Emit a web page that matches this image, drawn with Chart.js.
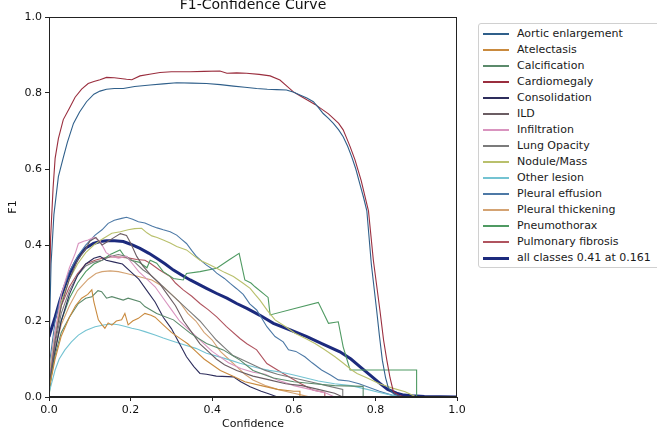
<!DOCTYPE html>
<html>
<head>
<meta charset="utf-8">
<script src="https://cdn.jsdelivr.net/npm/chart.js@4.4.1/dist/chart.umd.min.js"></script>
<style>
  html, body { margin:0; padding:0; background:#fff; overflow:hidden; }
  #wrap { position:relative; width:657px; height:434px; overflow:hidden; }
  #legend { position:absolute; left:478px; top:23px; width:190px; height:245px;
    border:1px solid #d0d0d0; border-radius:3px; background:#fff; box-sizing:border-box;
    font-family:"DejaVu Sans", sans-serif; font-size:11px; color:#1a1a1a; }
  .row { position:absolute; left:0; height:16px; line-height:16px; white-space:nowrap; }
  .sw { position:absolute; left:4px; width:26px; top:7px; }
  .lbl { position:absolute; left:38px; top:0; }
</style>
</head>
<body>
<div id="wrap">
  <canvas id="c" width="657" height="434"></canvas>
  <div id="legend"></div>
</div>
<script>
// ---- Data (confidence, F1) ----
const classNames = ["Aortic enlargement","Atelectasis","Calcification","Cardiomegaly","Consolidation","ILD","Infiltration","Lung Opacity","Nodule/Mass","Other lesion","Pleural effusion","Pleural thickening","Pneumothorax","Pulmonary fibrosis"];
const allClassesLabel = "all classes 0.41 at 0.161";
const xTicks = [0, 0.2, 0.4, 0.6, 0.8, 1.0];
const yTicks = [0, 0.2, 0.4, 0.6, 0.8, 1.0];

const aortic = [[0,0.12],[0.005,0.35],[0.012,0.48],[0.023,0.58],[0.035,0.63],[0.045,0.67],[0.06,0.72],[0.075,0.75],[0.092,0.777],[0.11,0.797],[0.125,0.805],[0.141,0.81],[0.16,0.812],[0.182,0.812],[0.21,0.817],[0.248,0.821],[0.28,0.824],[0.313,0.827],[0.35,0.826],[0.386,0.825],[0.42,0.822],[0.452,0.818],[0.48,0.815],[0.509,0.812],[0.535,0.81],[0.558,0.809],[0.582,0.808],[0.6,0.802],[0.615,0.795],[0.632,0.787],[0.648,0.777],[0.66,0.762],[0.672,0.746],[0.685,0.733],[0.697,0.72],[0.71,0.703],[0.721,0.685],[0.732,0.66],[0.742,0.632],[0.752,0.6],[0.762,0.56],[0.771,0.525],[0.779,0.49],[0.79,0.35],[0.803,0.229],[0.81,0.16],[0.817,0.097],[0.825,0.05],[0.832,0.023],[0.845,0.008],[0.86,0.002],[0.87,0],[1,0]];
const atelectasis = [[0,0.02],[0.015,0.1],[0.03,0.16],[0.05,0.21],[0.065,0.24],[0.08,0.26],[0.095,0.27],[0.105,0.282],[0.11,0.25],[0.117,0.22],[0.121,0.203],[0.13,0.19],[0.137,0.181],[0.145,0.195],[0.154,0.189],[0.165,0.2],[0.178,0.203],[0.186,0.22],[0.194,0.19],[0.205,0.2],[0.219,0.207],[0.235,0.22],[0.25,0.215],[0.26,0.21],[0.28,0.19],[0.3,0.17],[0.32,0.155],[0.34,0.14],[0.36,0.12],[0.38,0.1],[0.4,0.085],[0.42,0.07],[0.45,0.055],[0.48,0.04],[0.52,0.03],[0.56,0.02],[0.6,0.015],[0.615,0.015],[0.615,0],[1,0]];
const calcification = [[0,0.02],[0.015,0.11],[0.03,0.17],[0.05,0.21],[0.072,0.246],[0.09,0.26],[0.105,0.264],[0.12,0.28],[0.129,0.277],[0.141,0.26],[0.154,0.264],[0.182,0.255],[0.194,0.26],[0.223,0.251],[0.235,0.238],[0.264,0.22],[0.305,0.203],[0.346,0.168],[0.386,0.141],[0.427,0.124],[0.468,0.097],[0.5,0.07],[0.55,0.05],[0.6,0.04],[0.65,0.035],[0.7,0.03],[0.77,0.028],[0.77,0],[1,0]];
const cardiomegaly = [[0,0.2],[0.004,0.42],[0.01,0.55],[0.015,0.628],[0.023,0.68],[0.035,0.73],[0.05,0.76],[0.064,0.789],[0.08,0.81],[0.096,0.825],[0.11,0.83],[0.125,0.835],[0.141,0.841],[0.16,0.84],[0.19,0.836],[0.203,0.835],[0.223,0.845],[0.25,0.85],[0.272,0.854],[0.3,0.856],[0.346,0.856],[0.38,0.857],[0.419,0.858],[0.436,0.852],[0.46,0.853],[0.484,0.852],[0.515,0.849],[0.542,0.845],[0.566,0.834],[0.583,0.818],[0.599,0.803],[0.615,0.793],[0.632,0.782],[0.652,0.77],[0.672,0.755],[0.685,0.745],[0.697,0.733],[0.71,0.72],[0.721,0.703],[0.73,0.68],[0.738,0.659],[0.75,0.624],[0.765,0.57],[0.783,0.49],[0.795,0.36],[0.811,0.229],[0.82,0.15],[0.828,0.097],[0.836,0.05],[0.844,0.014],[0.86,0.003],[0.875,0],[1,0]];
const consolidation = [[0,0.02],[0.015,0.12],[0.03,0.2],[0.05,0.27],[0.07,0.32],[0.09,0.35],[0.11,0.365],[0.125,0.37],[0.14,0.36],[0.16,0.355],[0.18,0.35],[0.2,0.33],[0.22,0.31],[0.24,0.28],[0.26,0.25],[0.28,0.21],[0.3,0.18],[0.32,0.14],[0.337,0.106],[0.355,0.08],[0.37,0.062],[0.386,0.06],[0.41,0.055],[0.452,0.053],[0.47,0.04],[0.493,0.027],[0.52,0.015],[0.54,0.008],[0.56,0],[1,0]];
const ild = [[0,0.03],[0.015,0.15],[0.03,0.24],[0.05,0.31],[0.07,0.36],[0.09,0.39],[0.1,0.41],[0.115,0.42],[0.13,0.4],[0.145,0.41],[0.16,0.42],[0.175,0.43],[0.19,0.425],[0.2,0.405],[0.215,0.37],[0.23,0.345],[0.25,0.32],[0.27,0.3],[0.29,0.27],[0.31,0.24],[0.33,0.2],[0.35,0.17],[0.37,0.14],[0.39,0.12],[0.41,0.1],[0.43,0.085],[0.46,0.07],[0.5,0.055],[0.54,0.045],[0.58,0.035],[0.62,0.03],[0.66,0.02],[0.7,0.01],[0.72,0],[1,0]];
const infiltration = [[0,0.03],[0.015,0.17],[0.03,0.27],[0.05,0.34],[0.065,0.38],[0.072,0.404],[0.085,0.41],[0.096,0.413],[0.11,0.42],[0.125,0.41],[0.14,0.38],[0.155,0.37],[0.17,0.365],[0.19,0.37],[0.205,0.35],[0.22,0.33],[0.24,0.31],[0.26,0.29],[0.28,0.26],[0.3,0.23],[0.32,0.2],[0.34,0.18],[0.36,0.16],[0.38,0.14],[0.4,0.12],[0.42,0.105],[0.44,0.09],[0.47,0.075],[0.5,0.065],[0.53,0.06],[0.56,0.045],[0.6,0.03],[0.64,0.02],[0.68,0.01],[0.7,0],[1,0]];
const lungOpacity = [[0,0.03],[0.015,0.14],[0.03,0.22],[0.05,0.28],[0.07,0.32],[0.09,0.345],[0.11,0.355],[0.13,0.36],[0.15,0.37],[0.17,0.375],[0.19,0.37],[0.21,0.355],[0.23,0.335],[0.25,0.32],[0.27,0.3],[0.29,0.28],[0.31,0.26],[0.33,0.24],[0.35,0.22],[0.37,0.2],[0.39,0.175],[0.41,0.15],[0.43,0.13],[0.45,0.11],[0.47,0.1],[0.5,0.085],[0.53,0.07],[0.56,0.06],[0.6,0.05],[0.64,0.04],[0.68,0.03],[0.72,0.02],[0.72,0],[1,0]];
const noduleMass = [[0,0.05],[0.015,0.17],[0.03,0.25],[0.05,0.31],[0.07,0.35],[0.09,0.38],[0.11,0.4],[0.13,0.415],[0.154,0.431],[0.175,0.435],[0.194,0.44],[0.21,0.443],[0.227,0.444],[0.24,0.432],[0.252,0.424],[0.265,0.42],[0.28,0.413],[0.297,0.405],[0.313,0.396],[0.337,0.387],[0.355,0.372],[0.37,0.36],[0.39,0.35],[0.411,0.339],[0.43,0.328],[0.452,0.317],[0.475,0.3],[0.493,0.286],[0.505,0.27],[0.517,0.255],[0.535,0.228],[0.554,0.203],[0.58,0.185],[0.603,0.168],[0.63,0.153],[0.652,0.141],[0.675,0.125],[0.701,0.106],[0.72,0.09],[0.742,0.071],[0.755,0.062],[0.78,0.05],[0.81,0.035],[0.84,0.024],[0.873,0.014],[0.89,0.005],[0.9,0],[1,0]];
const otherLesion = [[0,0.01],[0.015,0.071],[0.025,0.1],[0.039,0.124],[0.055,0.145],[0.072,0.163],[0.09,0.175],[0.113,0.185],[0.137,0.19],[0.155,0.192],[0.17,0.19],[0.185,0.186],[0.203,0.181],[0.22,0.177],[0.235,0.172],[0.26,0.163],[0.28,0.155],[0.3,0.148],[0.321,0.141],[0.36,0.128],[0.386,0.115],[0.42,0.105],[0.45,0.095],[0.468,0.089],[0.517,0.075],[0.54,0.07],[0.57,0.065],[0.6,0.058],[0.63,0.05],[0.66,0.042],[0.7,0.035],[0.74,0.03],[0.78,0.02],[0.81,0.012],[0.84,0.005],[0.86,0],[1,0]];
const pleuralEffusion = [[0,0.08],[0.015,0.2],[0.03,0.27],[0.05,0.33],[0.07,0.37],[0.09,0.4],[0.113,0.426],[0.13,0.44],[0.145,0.457],[0.16,0.465],[0.178,0.47],[0.19,0.473],[0.205,0.468],[0.219,0.461],[0.235,0.458],[0.252,0.45],[0.265,0.445],[0.28,0.44],[0.297,0.435],[0.313,0.426],[0.325,0.415],[0.337,0.404],[0.35,0.385],[0.362,0.369],[0.375,0.357],[0.386,0.347],[0.4,0.337],[0.411,0.326],[0.43,0.312],[0.444,0.299],[0.46,0.285],[0.476,0.27],[0.492,0.245],[0.509,0.229],[0.52,0.21],[0.534,0.185],[0.554,0.159],[0.574,0.145],[0.587,0.124],[0.605,0.12],[0.627,0.106],[0.645,0.09],[0.668,0.071],[0.69,0.058],[0.709,0.045],[0.735,0.042],[0.76,0.035],[0.78,0.027],[0.81,0.015],[0.84,0.005],[0.86,0],[1,0]];
const pleuralThickening = [[0,0.03],[0.015,0.13],[0.03,0.19],[0.05,0.24],[0.07,0.28],[0.096,0.31],[0.115,0.325],[0.13,0.33],[0.15,0.332],[0.17,0.33],[0.19,0.325],[0.219,0.317],[0.252,0.308],[0.28,0.29],[0.3,0.27],[0.32,0.25],[0.34,0.22],[0.36,0.2],[0.38,0.17],[0.4,0.15],[0.42,0.12],[0.44,0.1],[0.46,0.08],[0.48,0.06],[0.5,0.045],[0.53,0.03],[0.56,0.02],[0.6,0.01],[0.62,0.005],[0.64,0],[1,0]];
const pneumothorax = [[0,0],[0.01,0.1],[0.03,0.2],[0.05,0.26],[0.07,0.3],[0.09,0.33],[0.11,0.35],[0.13,0.36],[0.15,0.375],[0.174,0.387],[0.185,0.37],[0.2,0.36],[0.22,0.355],[0.24,0.34],[0.248,0.36],[0.264,0.352],[0.28,0.33],[0.305,0.312],[0.329,0.308],[0.337,0.325],[0.37,0.33],[0.411,0.339],[0.44,0.36],[0.466,0.378],[0.48,0.308],[0.495,0.3],[0.505,0.29],[0.537,0.262],[0.542,0.216],[0.6,0.232],[0.66,0.249],[0.685,0.194],[0.709,0.198],[0.721,0.132],[0.738,0.071],[0.901,0.071],[0.901,0],[1,0]];
const pulmonaryFibrosis = [[0,0.05],[0.015,0.17],[0.03,0.24],[0.05,0.29],[0.07,0.325],[0.09,0.35],[0.113,0.36],[0.13,0.365],[0.154,0.369],[0.175,0.368],[0.194,0.366],[0.215,0.362],[0.235,0.36],[0.248,0.352],[0.27,0.335],[0.297,0.317],[0.31,0.3],[0.329,0.282],[0.35,0.265],[0.37,0.246],[0.39,0.23],[0.411,0.211],[0.435,0.185],[0.468,0.154],[0.485,0.14],[0.509,0.124],[0.534,0.088],[0.574,0.062],[0.615,0.036],[0.648,0.018],[0.676,0.012],[0.676,0],[1,0]];
const allClasses = [[0,0.158],[0.0025,0.168],[0.015,0.21],[0.027,0.255],[0.04,0.295],[0.051,0.326],[0.065,0.355],[0.076,0.374],[0.09,0.392],[0.109,0.404],[0.125,0.409],[0.141,0.411],[0.161,0.411],[0.182,0.409],[0.2,0.402],[0.223,0.391],[0.245,0.378],[0.264,0.365],[0.285,0.35],[0.305,0.334],[0.325,0.321],[0.346,0.308],[0.366,0.297],[0.386,0.286],[0.41,0.273],[0.436,0.26],[0.46,0.246],[0.485,0.233],[0.517,0.215],[0.55,0.194],[0.59,0.177],[0.632,0.159],[0.67,0.14],[0.713,0.119],[0.74,0.1],[0.762,0.08],[0.79,0.055],[0.811,0.036],[0.83,0.02],[0.852,0.01],[0.87,0.005],[0.89,0.003],[0.92,0.001],[1,0]];

const classSeries = [aortic, atelectasis, calcification, cardiomegaly, consolidation, ild, infiltration, lungOpacity, noduleMass, otherLesion, pleuralEffusion, pleuralThickening, pneumothorax, pulmonaryFibrosis];
const classColors = ["#2f5f8a","#c98a3e","#5b8a6b","#9a2e3e","#2d2d5c","#6b5d63","#d994bf","#7b7b7b","#b9c06c","#74c3d2","#4d79a6","#d4a373","#4f9a62","#b0545f"];
const allColor = "#1c2a7d";

const toXY = arr => arr.map(p => ({x: p[0], y: p[1]}));

const datasets = classSeries.map((s, i) => ({
  label: classNames[i], data: toXY(s), borderColor: classColors[i], borderWidth: 1.1,
  pointRadius: 0, tension: 0, fill: false
}));
datasets.push({ label: allClassesLabel, data: toXY(allClasses), borderColor: allColor, borderWidth: 3, pointRadius: 0, tension: 0, fill: false });

const FONT = "'DejaVu Sans', sans-serif";

const framePlugin = {
  id: 'frame',
  afterDraw(chart) {
    const {ctx, chartArea: a} = chart;
    ctx.save();
    ctx.strokeStyle = '#222'; ctx.lineWidth = 1;
    ctx.strokeRect(Math.round(a.left) + 0.5, Math.round(a.top) + 0.5, Math.round(a.right - a.left) - 1, Math.round(a.bottom - a.top) - 1);
    ctx.fillStyle = '#111';
    ctx.font = "14px " + FONT;
    ctx.textAlign = 'center'; ctx.textBaseline = 'alphabetic';
    ctx.fillText('F1-Confidence Curve', (a.left + a.right) / 2, 9);
    ctx.restore();
  }
};

new Chart(document.getElementById('c'), {
  type: 'line',
  data: { datasets },
  options: {
    responsive: false, animation: false, devicePixelRatio: 1,
    layout: { padding: { top: 17, right: 200, left: 0, bottom: 0 } },
    plugins: { legend: { display: false }, tooltip: { enabled: false }, title: { display: false } },
    scales: {
      x: {
        type: 'linear', min: 0, max: 1,
        afterFit: s => { s.height = 37; },
        afterBuildTicks: s => { s.ticks = xTicks.map(v => ({value: v})); },
        ticks: { font: { family: FONT, size: 11 }, color: '#111', padding: 3, maxRotation: 0, callback: v => v.toFixed(1) },
        grid: { display: true, drawOnChartArea: false, drawTicks: true, tickLength: 4, color: '#222' },
        border: { display: true, color: '#222' },
        title: { display: true, text: 'Confidence', font: { family: FONT, size: 11 }, color: '#111', padding: { top: 0, bottom: 3 } }
      },
      y: {
        type: 'linear', min: 0, max: 1,
        afterFit: s => { s.width = 49; },
        afterBuildTicks: s => { s.ticks = yTicks.map(v => ({value: v})); },
        ticks: { font: { family: FONT, size: 11 }, color: '#111', padding: 3, callback: v => v.toFixed(1) },
        grid: { display: true, drawOnChartArea: false, drawTicks: true, tickLength: 4, color: '#222' },
        border: { display: true, color: '#222' },
        title: { display: true, text: 'F1', font: { family: FONT, size: 11 }, color: '#111', padding: { top: 7, bottom: 0 } }
      }
    }
  },
  plugins: [framePlugin]
});

// HTML legend built from the same arrays
const leg = document.getElementById('legend');
const labels = classNames.concat([allClassesLabel]);
const colors = classColors.concat([allColor]);
labels.forEach((t, i) => {
  const r = document.createElement('div');
  r.className = 'row';
  r.style.top = (2 + 16 * i) + 'px';
  const sw = document.createElement('div');
  sw.className = 'sw';
  const h = i === labels.length - 1 ? 3 : 2;
  sw.style.height = h + 'px';
  sw.style.top = (8 - h / 2) + 'px';
  sw.style.background = colors[i];
  const l = document.createElement('span');
  l.className = 'lbl';
  l.textContent = t;
  r.appendChild(sw); r.appendChild(l);
  leg.appendChild(r);
});
</script>
</body>
</html>
